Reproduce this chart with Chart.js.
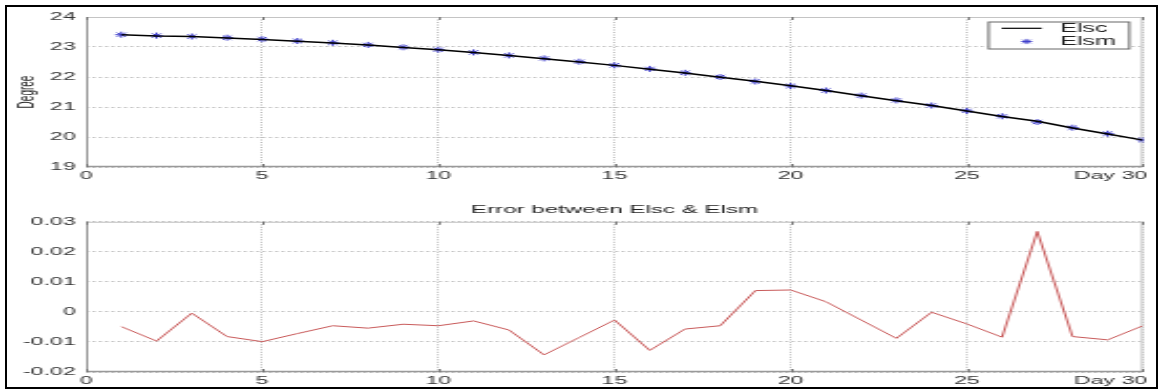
<!DOCTYPE html>
<html>
<head>
<meta charset="utf-8">
<script src="https://cdn.jsdelivr.net/npm/chart.js@4.4.1/dist/chart.umd.min.js"></script>
<style>
  html, body { margin: 0; padding: 0; background: #fff; }
  #wrap { position: relative; width: 1161px; height: 390px; overflow: hidden; background: #fff; }
  /* charts are drawn narrow and stretched sideways */
  canvas { position: absolute; left: 0; width: 1161px !important; height: 195px !important; }
  #c1 { top: 0; }
  #c2 { top: 195px; }
  #frame { position: absolute; left: 5px; top: 5px; width: 1153px; height: 384px;
           box-sizing: border-box; border: 2px solid #000; pointer-events: none; }
</style>
</head>
<body>
<div id="wrap">
  <canvas id="c1" width="553" height="195"></canvas>
  <canvas id="c2" width="553" height="195"></canvas>
  <div id="frame"></div>
</div>
<script>
const days = [1, 2, 3, 4, 5, 6, 7, 8, 9, 10, 11, 12, 13, 14, 15,
              16, 17, 18, 19, 20, 21, 22, 23, 24, 25, 26, 27, 28, 29, 30];

// computed angle (line)
const elsc = [23.405, 23.370, 23.350, 23.302, 23.250, 23.193, 23.135, 23.065, 22.986, 22.905,
              22.817, 22.714, 22.606, 22.502, 22.387, 22.257, 22.134, 21.995, 21.857, 21.707,
              21.553, 21.377, 21.211, 21.050, 20.866, 20.682, 20.527, 20.302, 20.101, 19.895];

// measured angle (stars)
const elsm = [23.41, 23.38, 23.35, 23.31, 23.26, 23.20, 23.14, 23.07, 22.99, 22.91,
              22.82, 22.72, 22.62, 22.51, 22.39, 22.27, 22.14, 22.00, 21.85, 21.70,
              21.55, 21.38, 21.22, 21.05, 20.87, 20.69, 20.50, 20.31, 20.11, 19.90];

const errors = [-0.0049, -0.0097, -0.0004, -0.0082, -0.0099, -0.0072, -0.0046, -0.0054, -0.0041, -0.0046,
                -0.0030, -0.0060, -0.0143, -0.0085, -0.0027, -0.0128, -0.0057, -0.0046, 0.0071, 0.0073,
                0.0034, -0.0027, -0.0088, -0.0001, -0.0040, -0.0084, 0.0268, -0.0082, -0.0093, -0.0046];

const degreeTicks = [19, 20, 21, 22, 23, 24];
const errorTicks = [-0.02, -0.01, 0, 0.01, 0.02, 0.03];
const dayTicks = [0, 5, 10, 15, 20, 25, 30];

const FONT = "'Liberation Sans', Arial, sans-serif";
Chart.defaults.font.family = FONT;
Chart.defaults.color = '#333';

const toXY = (ys) => days.map((d, i) => ({ x: days[i], y: ys[i] }));
const lastDay = dayTicks[dayTicks.length - 1];

// grey box round the axes plus small inward ticks
const axesBox = {
  id: 'axesBox',
  beforeDatasetsDraw(chart) {
    const { ctx, chartArea: a, scales } = chart;
    ctx.save();
    ctx.lineWidth = 1;
    ctx.strokeStyle = '#c4c4c4';
    ctx.beginPath();
    ctx.moveTo(a.left, a.top + 0.5); ctx.lineTo(a.right, a.top + 0.5);
    ctx.moveTo(a.right - 0.5, a.top); ctx.lineTo(a.right - 0.5, a.bottom);
    ctx.stroke();
    ctx.strokeStyle = '#999';
    ctx.beginPath();
    ctx.moveTo(a.left + 0.5, a.top); ctx.lineTo(a.left + 0.5, a.bottom);
    ctx.stroke();
    ctx.lineWidth = 1.5;
    ctx.beginPath();
    ctx.moveTo(a.left, a.bottom - 0.5); ctx.lineTo(a.right, a.bottom - 0.5);
    ctx.stroke();
    ctx.lineWidth = 1;
    ctx.strokeStyle = '#777';
    ctx.beginPath();
    scales.x.ticks.forEach(t => {
      const x = Math.round(scales.x.getPixelForValue(t.value)) + 0.5;
      ctx.moveTo(x, a.bottom); ctx.lineTo(x, a.bottom - 3);
      ctx.moveTo(x, a.top); ctx.lineTo(x, a.top + 3);
    });
    ctx.stroke();
    ctx.restore();
  }
};

// "Day 30" at the right end of the x axis
const dayLabel = {
  id: 'dayLabel',
  afterDraw(chart) {
    const { ctx, chartArea: a, scales } = chart;
    ctx.save();
    ctx.font = '11px ' + FONT;
    ctx.fillStyle = '#333';
    ctx.textAlign = 'right';
    ctx.textBaseline = 'middle';
    ctx.fillText('Day ' + lastDay, scales.x.getPixelForValue(lastDay) + 2, a.bottom + 8.5);
    ctx.restore();
  }
};

// boxed legend in the top-right corner of the plot
const boxLegend = {
  id: 'boxLegend',
  afterDraw(chart) {
    const { ctx, chartArea: a } = chart;
    const w = 68, h = 28;
    const x0 = a.right - 6 - w, y0 = a.top + 4.5;
    ctx.save();
    ctx.fillStyle = '#fff';
    ctx.fillRect(x0, y0, w, h);
    ctx.strokeStyle = '#666';
    ctx.lineWidth = 1;
    ctx.strokeRect(x0 + 0.5, y0 + 0.5, w - 1, h - 1);
    const ds = chart.data.datasets;
    // line sample
    ctx.strokeStyle = ds[0].borderColor;
    ctx.lineWidth = 1.2;
    ctx.beginPath();
    ctx.moveTo(x0 + 6.7, y0 + 6.8); ctx.lineTo(x0 + 25.8, y0 + 6.8);
    ctx.stroke();
    // star sample
    const sx = x0 + 18.6, sy = y0 + 20, r = 2.6;
    ctx.strokeStyle = ds[1].borderColor;
    ctx.lineWidth = 1;
    ctx.beginPath();
    ctx.moveTo(sx - r, sy); ctx.lineTo(sx + r, sy);
    ctx.moveTo(sx, sy - r); ctx.lineTo(sx, sy + r);
    ctx.moveTo(sx - r * 0.7, sy - r * 0.7); ctx.lineTo(sx + r * 0.7, sy + r * 0.7);
    ctx.moveTo(sx - r * 0.7, sy + r * 0.7); ctx.lineTo(sx + r * 0.7, sy - r * 0.7);
    ctx.stroke();
    ctx.fillStyle = '#222';
    ctx.font = '12px ' + FONT;
    ctx.textBaseline = 'middle';
    ctx.textAlign = 'left';
    ctx.fillText(ds[0].label, x0 + 34.5, y0 + 6.8);
    ctx.fillText(ds[1].label, x0 + 34.5, y0 + 20);
    ctx.restore();
  }
};

const xScale = (padding) => ({
  type: 'linear',
  min: dayTicks[0],
  max: lastDay,
  afterBuildTicks: (s) => { s.ticks = dayTicks.map(v => ({ value: v })); },
  afterFit: (s) => { s.height = padding === 2 ? 20 : 18; },
  grid: { color: '#bdbdbd', lineWidth: 1, drawTicks: false },
  border: { display: false, dash: [1, 1.5] },
  ticks: {
    padding: padding,
    maxRotation: 0,
    autoSkip: false,
    font: { size: 11 },
    color: '#333',
    callback: (v) => (v === lastDay ? '' : String(v))
  }
});

const yGrid = { color: '#c4c4c4', lineWidth: 1, drawTicks: false };

new Chart(document.getElementById('c1'), {
  type: 'line',
  data: {
    datasets: [
      {
        label: 'Elsc',
        data: toXY(elsc),
        borderColor: '#000',
        borderWidth: 1.5,
        pointRadius: 0,
        tension: 0,
        fill: false
      },
      {
        label: 'Elsm',
        data: toXY(elsm),
        showLine: false,
        borderColor: '#4040cc',
        backgroundColor: '#4040cc',
        pointStyle: 'star',
        pointRadius: 3,
        pointBorderWidth: 1
      }
    ]
  },
  options: {
    responsive: false,
    devicePixelRatio: 1,
    animation: false,
    layout: { padding: { left: 7, right: 8.6, top: 17, bottom: 8 } },
    plugins: { legend: { display: false }, tooltip: { enabled: false } },
    scales: {
      x: xScale(2),
      y: {
        min: degreeTicks[0],
        max: degreeTicks[degreeTicks.length - 1],
        afterBuildTicks: (s) => { s.ticks = degreeTicks.map(v => ({ value: v })); },
        afterFit: (s) => { s.width = 34; },
        grid: yGrid,
        border: { display: false, dash: [1.5, 1.5] },
        title: { display: true, text: 'Degree', font: { size: 10 }, color: '#222', padding: 0 },
        ticks: { padding: 5, font: { size: 11 }, color: '#333' }
      }
    }
  },
  plugins: [axesBox, dayLabel, boxLegend]
});

new Chart(document.getElementById('c2'), {
  type: 'line',
  data: {
    datasets: [
      {
        label: 'Error',
        data: toXY(errors),
        borderColor: '#c85a5a',
        borderWidth: 1,
        pointRadius: 0,
        tension: 0,
        fill: false
      }
    ]
  },
  options: {
    responsive: false,
    devicePixelRatio: 1,
    animation: false,
    layout: { padding: { left: 7, right: 8.6, top: 0, bottom: 0 } },
    plugins: {
      legend: { display: false },
      tooltip: { enabled: false },
      title: {
        display: true,
        fullSize: false,
        text: 'Error between Elsc & Elsm',
        color: '#222',
        font: { size: 11.5, weight: 'normal' },
        padding: { top: 8, bottom: 5 }
      }
    },
    scales: {
      x: xScale(2.5),
      y: {
        min: errorTicks[0],
        max: errorTicks[errorTicks.length - 1],
        afterBuildTicks: (s) => { s.ticks = errorTicks.map(v => ({ value: v })); },
        afterFit: (s) => { s.width = 34; },
        grid: yGrid,
        border: { display: false, dash: [1.5, 1.5] },
        ticks: {
          padding: 5,
          font: { size: 11 },
          color: '#333',
          callback: (v) => (Math.abs(v) < 1e-9 ? '0' : (Math.round(v * 100) / 100).toFixed(2))
        }
      }
    }
  },
  plugins: [axesBox, dayLabel]
});
</script>
</body>
</html>
